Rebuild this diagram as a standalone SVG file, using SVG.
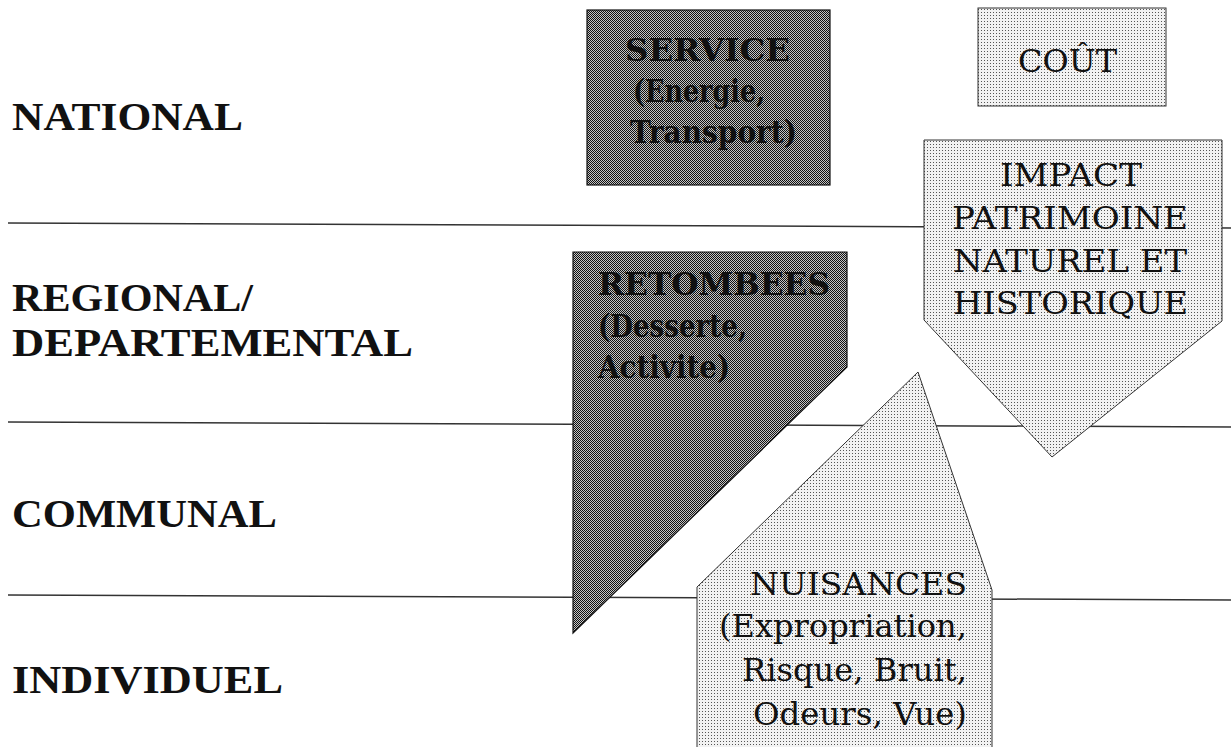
<svg xmlns="http://www.w3.org/2000/svg" width="1231" height="747" viewBox="0 0 1231 747">
<defs>
<pattern id="dark" width="2" height="2" patternUnits="userSpaceOnUse">
<rect width="2" height="2" fill="#c4c4c4"/>
<rect x="0" y="0" width="1" height="1" fill="#111"/>
<rect x="1" y="1" width="1" height="1" fill="#111"/>
</pattern>
<pattern id="light" width="3" height="3" patternUnits="userSpaceOnUse">
<rect width="3" height="3" fill="#f2f2f2"/>
<rect x="0" y="0" width="1" height="1" fill="#555"/>
</pattern>
</defs>
<style>
.sep{stroke:#333;stroke-width:1.5;fill:none}
.dk{fill:url(#dark);stroke:#111;stroke-width:1.2}
.lt{fill:url(#light);stroke:#333;stroke-width:1}
.lvl{font-family:"Liberation Serif","Times New Roman",serif;font-weight:bold;font-size:39px;fill:#111}
.bx{font-family:"DejaVu Serif","Liberation Serif",serif;font-size:32px;fill:#111}
.bb{font-weight:bold}
</style>
<rect width="1231" height="747" fill="#fff"/>
<g id="separators">
<line class="sep" x1="8" y1="223" x2="1231" y2="228"/>
<line class="sep" x1="8" y1="422" x2="1231" y2="427"/>
<line class="sep" x1="8" y1="595" x2="1231" y2="600"/>
</g>
<g id="levels">
<text class="lvl" x="12" y="130" textLength="231" lengthAdjust="spacingAndGlyphs">NATIONAL</text>
<text class="lvl" x="12" y="311" textLength="241" lengthAdjust="spacingAndGlyphs">REGIONAL/</text>
<text class="lvl" x="12" y="356" textLength="401" lengthAdjust="spacingAndGlyphs">DEPARTEMENTAL</text>
<text class="lvl" x="12" y="527" textLength="265" lengthAdjust="spacingAndGlyphs">COMMUNAL</text>
<text class="lvl" x="12" y="693" textLength="271" lengthAdjust="spacingAndGlyphs">INDIVIDUEL</text>
</g>
<g id="service">
<rect class="dk" x="587" y="10" width="243" height="175"/>
<text class="bx bb" x="625" y="61" textLength="165" lengthAdjust="spacingAndGlyphs">SERVICE</text>
<text class="bx bb" x="633" y="102" textLength="132" lengthAdjust="spacingAndGlyphs">(Energie,</text>
<text class="bx bb" x="630" y="143" textLength="167" lengthAdjust="spacingAndGlyphs">Transport)</text>
</g>
<g id="cout">
<rect class="lt" x="978" y="8" width="188" height="98"/>
<text class="bx" x="1018" y="72" textLength="99" lengthAdjust="spacingAndGlyphs">COÛT</text>
</g>
<g id="retombees">
<polygon class="dk" points="573,252 847,252 847,367 573,633"/>
<text class="bx bb" x="598" y="295" textLength="232" lengthAdjust="spacingAndGlyphs">RETOMBEES</text>
<text class="bx bb" x="598" y="337" textLength="149" lengthAdjust="spacingAndGlyphs">(Desserte,</text>
<text class="bx bb" x="598" y="378" textLength="132" lengthAdjust="spacingAndGlyphs">Activite)</text>
</g>
<g id="impact">
<polygon class="lt" points="924,140 1222,140 1222,321 1052,457 924,320"/>
<text class="bx" x="1000" y="186" textLength="142" lengthAdjust="spacingAndGlyphs">IMPACT</text>
<text class="bx" x="952" y="229" textLength="236" lengthAdjust="spacingAndGlyphs">PATRIMOINE</text>
<text class="bx" x="953" y="272" textLength="234" lengthAdjust="spacingAndGlyphs">NATUREL ET</text>
<text class="bx" x="953" y="314" textLength="235" lengthAdjust="spacingAndGlyphs">HISTORIQUE</text>
</g>
<g id="nuisances">
<polygon class="lt" points="918,372 992,590 992,750 697,750 697,587"/>
<text class="bx" x="750" y="595" textLength="217" lengthAdjust="spacingAndGlyphs">NUISANCES</text>
<text class="bx" x="719" y="637" textLength="248" lengthAdjust="spacingAndGlyphs">(Expropriation,</text>
<text class="bx" x="742" y="681" textLength="225" lengthAdjust="spacingAndGlyphs">Risque, Bruit,</text>
<text class="bx" x="753" y="725" textLength="214" lengthAdjust="spacingAndGlyphs">Odeurs, Vue)</text>
</g>
</svg>
